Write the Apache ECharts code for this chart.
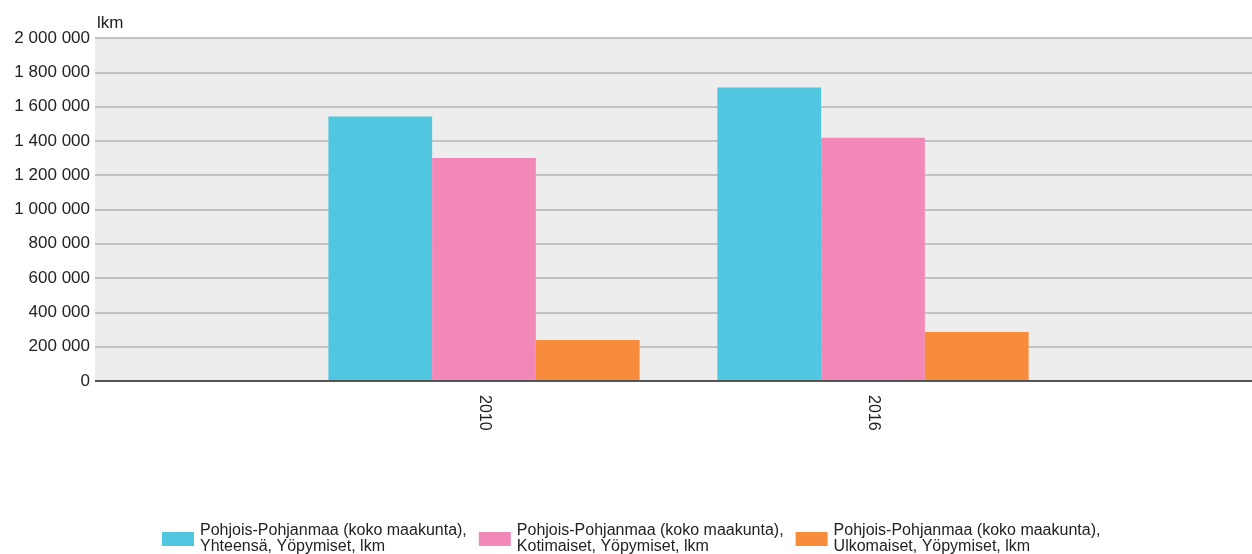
<!DOCTYPE html>
<html>
<head>
<meta charset="utf-8">
<script src="https://cdn.jsdelivr.net/npm/echarts@6/dist/echarts.min.js"></script>
<style>
html,body{margin:0;padding:0;background:#fff;overflow:hidden;}
#chart{width:1262px;height:554px;}
</style>
</head>
<body>
<div id="chart"></div>
<script>
const categories = ['', '2010', '2016', ''];
const seriesNames = [
  'Pohjois-Pohjanmaa (koko maakunta),\nYhteensä, Yöpymiset, lkm',
  'Pohjois-Pohjanmaa (koko maakunta),\nKotimaiset, Yöpymiset, lkm',
  'Pohjois-Pohjanmaa (koko maakunta),\nUlkomaiset, Yöpymiset, lkm'
];
const totalValues = [null, 1543000, 1712000, null];
const domesticValues = [null, 1300000, 1419000, null];
const foreignValues = [null, 239000, 286000, null];
const colors = ['#50c6e0', '#f288b8', '#f68c3c'];
const yAxisName = 'lkm';

const fmt = v => String(v).replace(/\B(?=(\d{3})+(?!\d))/g, ' ');
const chart = echarts.init(document.getElementById('chart'), null, {renderer: 'canvas'});
const font = '"Liberation Sans", Arial, sans-serif';
const mk = (name, data, color) => ({
  name, type: 'bar', data, barGap: '0%', barCategoryGap: '20%',
  itemStyle: {color},
  emphasis: {disabled: true}
});
chart.setOption({
  animation: false,
  textStyle: {fontFamily: font},
  grid: {left: 95, top: 38, bottom: 173, right: 0, show: true, backgroundColor: '#ededed', borderWidth: 0},
  legend: {
    left: 157, top: 518, itemWidth: 32, itemHeight: 14, itemGap: 12,
    icon: 'rect',
    textStyle: {fontFamily: font, fontSize: 16, color: '#222', lineHeight: 16, padding: [0, 0, 0, 1]}
  },
  xAxis: {
    type: 'category', data: categories, boundaryGap: false,
    axisLine: {show: false}, axisTick: {show: false},
    splitLine: {show: false},
    axisLabel: {rotate: -90, fontSize: 16, color: '#222', margin: 14, interval: 0}
  },
  yAxis: {
    type: 'value', min: 0, max: 2000000, interval: 200000,
    name: yAxisName, nameLocation: 'end', nameGap: 6,
    nameTextStyle: {fontSize: 17, color: '#222', align: 'left', padding: [0, 0, 0, 2]},
    axisLine: {show: false}, axisTick: {show: false},
    splitLine: {lineStyle: {color: '#c2c2c2', width: 2}},
    axisLabel: {fontSize: 17, color: '#222', margin: 5, formatter: fmt}
  },
  series: [
    mk(seriesNames[0], totalValues, colors[0]),
    mk(seriesNames[1], domesticValues, colors[1]),
    mk(seriesNames[2], foreignValues, colors[2]),
    {
      type: 'line', data: [], markLine: {
        silent: true, symbol: 'none', label: {show: false},
        lineStyle: {color: '#555', width: 2, type: 'solid'},
        data: [{yAxis: 0}]
      }
    }
  ]
});
</script>
</body>
</html>
